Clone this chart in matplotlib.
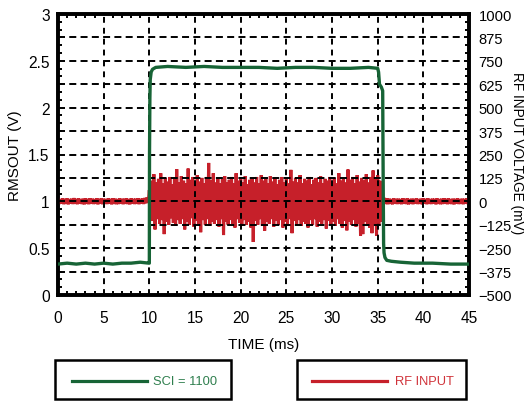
import numpy as np
import matplotlib
matplotlib.use("Agg")
import matplotlib.pyplot as plt
from matplotlib.ticker import MultipleLocator
from matplotlib.patches import Rectangle
from matplotlib.lines import Line2D

plt.rcParams['font.family'] = ['Liberation Sans', 'DejaVu Sans']

# ---------------- data ----------------
# RMSOUT (V), SCI = 1100
sci_t = [0, 1, 2, 3, 4, 5, 6, 7, 8, 9, 9.95, 10.0, 10.02, 10.06, 10.1, 10.2, 10.35, 10.7,
         12, 14, 16, 18, 20, 22, 24, 26, 28, 30, 32, 34, 35.0, 35.1, 35.2, 35.4, 35.55,
         35.6, 35.65, 35.7, 35.8, 36.0, 36.5, 37.5, 39, 41, 43, 45]
sci_v = [0.33, 0.34, 0.33, 0.34, 0.33, 0.34, 0.33, 0.34, 0.34, 0.35, 0.34, 0.34, 1.5, 2.1, 2.3, 2.38, 2.41, 2.43,
         2.44, 2.43, 2.44, 2.43, 2.43, 2.43, 2.42, 2.43, 2.43, 2.42, 2.42, 2.43, 2.42, 2.38, 2.25, 2.22, 2.18,
         1.27, 0.55, 0.45, 0.40, 0.37, 0.36, 0.35, 0.34, 0.34, 0.33, 0.33]

# RF input (mV): sample start times and peak (hi) / trough (lo) values
pre_t0, pre_t1 = 0.0, 10.0
burst_t0, burst_t1 = 10.0, 35.5
post_t0, post_t1 = 35.5, 45.25

pre_hi = [14, 12, 16, 13, 15, 12, 14, 17, 13, 15, 12, 14, 16, 13, 15, 14, 12, 16, 13, 15,
          14, 12, 15, 13, 16, 14, 12, 15, 13, 14, 16, 12, 15, 13, 14, 16, 13, 15, 18, 20]
pre_lo = [-14, -12, -15, -13, -16, -12, -14, -13, -15, -12, -14, -16, -13, -15, -12, -14, -13, -16, -12, -15,
          -13, -14, -12, -16, -13, -15, -14, -12, -15, -13, -14, -16, -12, -14, -13, -15, -12, -14, -10, -8]

burst_hi = [60, 110, 145, 100, 120, 150, 95, 125, 105, 130,
            90, 120, 172, 100, 135, 110, 95, 175, 115, 130,
            100, 140, 105, 125, 95, 130, 205, 110, 150, 100,
            125, 95, 120, 135, 100, 115, 130, 95, 150, 110,
            120, 100, 135, 90, 115, 125, 100, 130, 95, 140,
            110, 120, 95, 135, 105, 125, 90, 115, 130, 100,
            120, 95, 168, 105, 125, 100, 140, 95, 120, 110,
            130, 90, 115, 125, 100, 135, 95, 120, 110, 130,
            100, 125, 95, 150, 110, 120, 100, 170, 115, 130,
            95, 140, 105, 125, 110, 145, 100, 130, 165, 120,
            140, 110]
burst_lo = [-55, -105, -150, -95, -120, -100, -175, -110, -125, -90,
            -115, -130, -100, -120, -95, -150, -110, -125, -90, -135,
            -105, -120, -165, -100, -125, -95, -130, -110, -120, -100,
            -135, -95, -180, -110, -125, -100, -120, -140, -95, -115,
            -130, -100, -125, -110, -140, -217, -105, -125, -95, -130,
            -157, -110, -120, -95, -135, -105, -125, -100, -140, -110,
            -120, -95, -170, -105, -125, -100, -130, -110, -120, -140,
            -100, -125, -95, -135, -110, -120, -100, -145, -105, -125,
            -110, -130, -95, -120, -140, -105, -155, -110, -125, -100,
            -135, -120, -183, -175, -110, -125, -140, -170, -120, -183,
            -130, -110]

post_hi = [25, 18, 15, 14, 12, 15, 13, 14, 12, 16, 13, 15, 12, 14, 13, 15, 12, 14, 16, 13,
           15, 12, 14, 13, 15, 12, 14, 16, 13, 15, 12, 14, 13, 15, 12, 14, 13, 15, 14]
post_lo = [-12, -14, -15, -13, -16, -12, -14, -13, -15, -12, -14, -16, -13, -15, -12, -14, -13, -16, -12, -15,
           -13, -14, -12, -16, -13, -15, -14, -12, -15, -13, -14, -16, -12, -14, -13, -15, -12, -14, -13]

x_ticks = [0, 5, 10, 15, 20, 25, 30, 35, 40, 45]
left_ticks = [0, 0.5, 1, 1.5, 2, 2.5, 3]
left_labels = ['0', '0.5', '1', '1.5', '2', '2.5', '3']
right_ticks = [-500, -375, -250, -125, 0, 125, 250, 375, 500, 625, 750, 875, 1000]

GREEN = '#176436'
RED = '#C6202A'
GREEN_TXT = '#2F7F4E'
RED_TXT = '#D0333A'

# ---------------- build RF trace ----------------
def seg_times(t0, t1, n):
    return t0 + (t1 - t0) * np.arange(n) / n

rf_t, rf_v = [], []
for (t0, t1, hi, lo) in [(pre_t0, pre_t1, pre_hi, pre_lo),
                         (burst_t0, burst_t1, burst_hi, burst_lo),
                         (post_t0, post_t1, post_hi, post_lo)]:
    ts = seg_times(t0, t1, len(hi))
    dt = (t1 - t0) / len(hi)
    for t, h, l in zip(ts, hi, lo):
        rf_t += [t, t + dt / 2]
        rf_v += [h, l]

# ---------------- figure ----------------
W, H = 524.0, 402.0
def fx(px): return px / W
def fy(py): return (H - py) / H

fig = plt.figure(figsize=(5.24, 4.02), dpi=100)
ax = fig.add_axes([58/524, 106/402, 411/524, 281/402])
ax2 = ax.twinx()

ax.set_xlim(0, 45)
ax.set_ylim(0, 3)
ax2.set_ylim(-500, 1000)

ax2.set_zorder(ax.get_zorder() - 1)
ax.patch.set_visible(False)
ax2.plot(rf_t, rf_v, color=RED, lw=2.2, zorder=3, solid_joinstyle='miter')

ax.plot(sci_t, sci_v, color=GREEN, lw=2.4, zorder=4, solid_joinstyle='round')

# grid
for xv in x_ticks[1:-1]:
    ax.axvline(xv, color='black', lw=1.4, dashes=(3.0, 2.6), zorder=2)
for i in range(1, 12):
    ax.axhline(i * 0.25, color='black', lw=1.4, dashes=(3.6, 2.2), zorder=2)

# ticks
ax.set_xticks(x_ticks)
ax.set_yticks(left_ticks)
ax.set_yticklabels(left_labels)
ax2.set_yticks(right_ticks)
ax.xaxis.set_minor_locator(MultipleLocator(1))
ax.yaxis.set_minor_locator(MultipleLocator(0.25 / 3))
ax2.yaxis.set_minor_locator(MultipleLocator(125 / 3))

ax.tick_params(axis='both', which='major', direction='in', length=0, labelsize=11.2, pad=6)
ax.tick_params(axis='x', which='major', pad=11)
ax.tick_params(axis='both', which='minor', direction='in', length=3, width=1.4)
ax.tick_params(axis='x', which='minor', top=True)
ax.tick_params(axis='y', which='minor', left=True)
ax2.tick_params(axis='y', which='major', direction='in', length=0, labelsize=10.6, pad=7)
ax2.tick_params(axis='y', which='minor', direction='in', length=3, width=1.4)

for a in (ax, ax2):
    for s in a.spines.values():
        s.set_linewidth(2.6)
        s.set_color('black')

ax.set_xlabel('TIME (ms)', fontsize=11, va='center')
ax.xaxis.set_label_coords(0.5, (296 - 345) / 281)
ax.set_ylabel('RMSOUT (V)', fontsize=11, va='center')
ax.yaxis.set_label_coords((15 - 58) / 411, 0.5)
fig.text(fx(510), fy(153), 'RF INPUT VOLTAGE (mV)', fontsize=9.8, rotation=270,
         ha='left', va='center')

# ---------------- legend boxes ----------------
for (x0, x1, lx0, lx1, tx, col, tcol, label) in [
        (55, 231, 72, 147, 153, GREEN, GREEN_TXT, 'SCI = 1100'),
        (297, 466, 312, 387, 395, RED, RED_TXT, 'RF INPUT')]:
    fig.add_artist(Rectangle((fx(x0), fy(400)), fx(x1) - fx(x0), fy(361) - fy(400),
                             transform=fig.transFigure, fill=False, ec='black', lw=1.8))
    fig.add_artist(Line2D([fx(lx0), fx(lx1)], [fy(382), fy(382)], transform=fig.transFigure,
                          color=col, lw=2.3))
    fig.text(fx(tx), fy(382), label, color=tcol, fontsize=9.3, va='center', ha='left')

fig.savefig('out.png', dpi=100)
